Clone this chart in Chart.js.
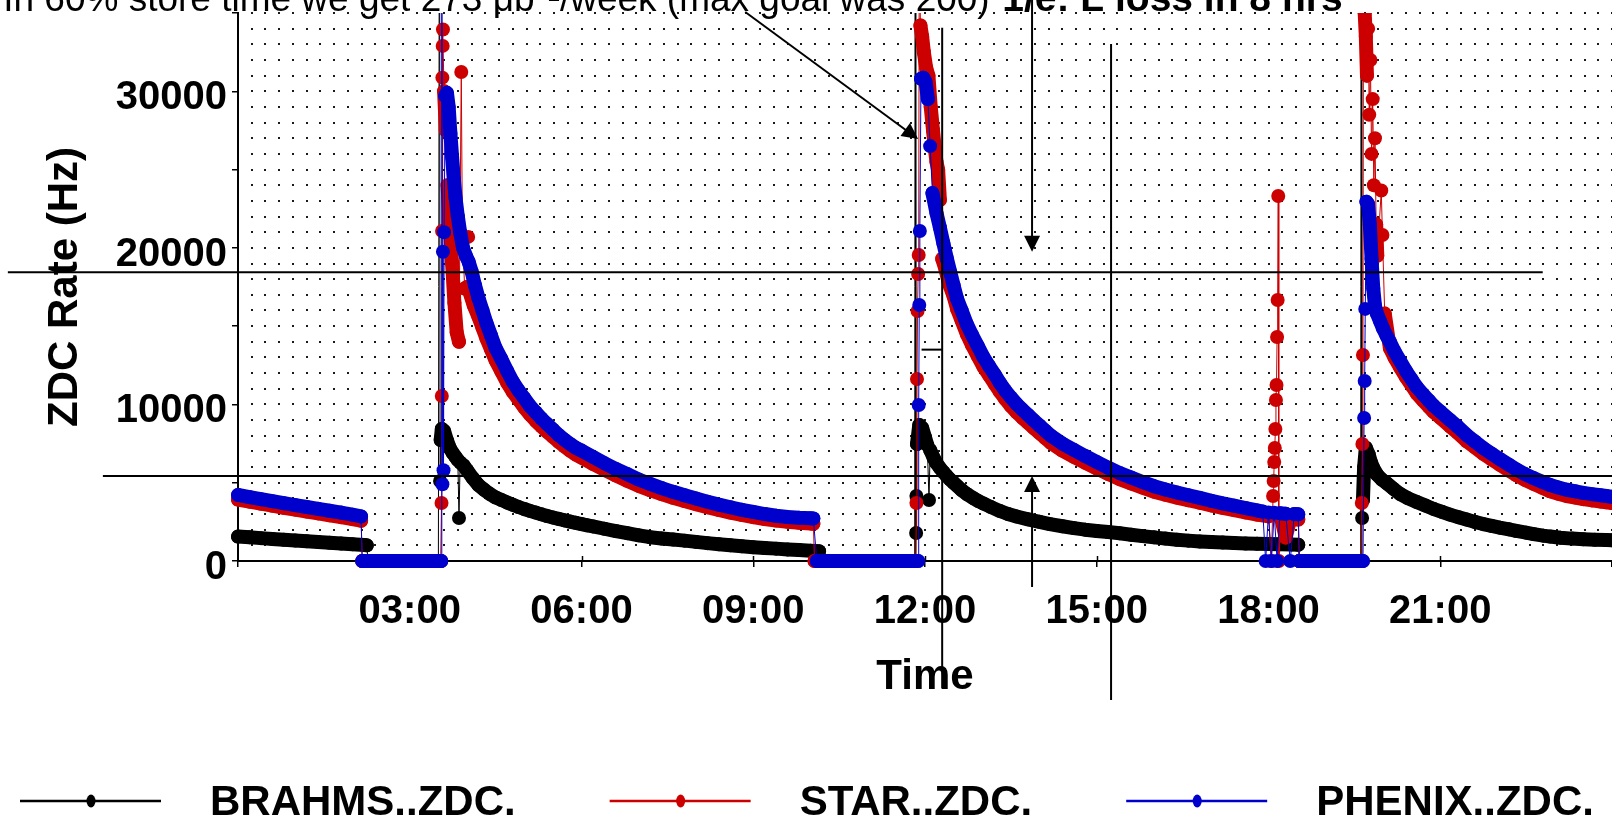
<!DOCTYPE html>
<html>
<head>
<meta charset="utf-8">
<script src="https://cdn.jsdelivr.net/npm/chart.js@4.4.1/dist/chart.umd.min.js"></script>
<style>
  html, body { margin: 0; padding: 0; background: #fff; }
  #wrap { position: relative; width: 1612px; height: 822px; }
</style>
</head>
<body>
<div id="wrap"><canvas id="zdcChart"></canvas></div>
<script>
// [hour of day, ZDC rate in Hz]
const brahmsZdc = [
  [0,1560],[0.2,1510],[0.4,1460],[0.6,1410],[0.8,1360],[1.0,1310],[1.2,1260],[1.4,1220],[1.6,1170],[1.8,1120],[2.0,1070],[2.2,1020],[2.25,1000],
  [2.27,0],[2.6,0],[3.0,0],[3.3,0],[3.5,0],
  [3.52,52000],[3.53,5110],[3.54,7730],[3.56,8430],[3.60,8300],[3.65,7700],[3.70,7200],[3.75,6900],[3.80,6650],[3.84,6450],[3.86,2750],[3.88,6300],[3.94,6100],[4.0,5800],[4.1,5300],[4.2,4850],[4.3,4550],[4.4,4280],[4.5,4060],[4.6,3900],[4.7,3740],[4.8,3590],[4.9,3450],[5.0,3320],[5.1,3200],[5.2,3090],[5.3,2980],[5.4,2870],[5.5,2780],[5.6,2690],[5.7,2600],[5.8,2520],[5.9,2440],[6.0,2360],[6.1,2280],[6.2,2210],[6.4,2060],[6.6,1910],[6.8,1780],[7.0,1640],[7.2,1520],[7.4,1440],[7.6,1370],[7.8,1300],[8.0,1220],[8.2,1140],[8.4,1070],[8.6,1000],[8.8,940],[9.0,880],[9.2,830],[9.4,790],[9.6,740],[9.8,700],[10.0,660],[10.15,630],
  [10.17,0],[10.5,0],[11.0,0],[11.5,0],[11.82,0],
  [11.83,55000],[11.835,0],[11.84,55000],[11.845,1790],[11.85,4150],[11.86,7470],[11.90,8690],[11.95,8500],[12.0,7900],[12.04,7400],[12.07,3900],[12.09,7090],[12.15,6600],[12.2,6250],[12.26,5950],[12.32,5680],[12.38,5430],[12.44,5200],[12.5,5000],[12.56,4800],[12.64,4530],[12.73,4280],[12.85,4000],[12.93,3830],[13.02,3670],[13.15,3450],[13.31,3190],[13.45,3000],[13.6,2840],[13.8,2660],[14.0,2500],[14.18,2360],[14.4,2220],[14.6,2100],[14.8,2000],[15.0,1920],[15.2,1850],[15.4,1770],[15.6,1680],[15.8,1590],[16.0,1510],[16.2,1430],[16.4,1360],[16.6,1300],[16.8,1250],[17.0,1210],[17.2,1180],[17.4,1150],[17.6,1120],[17.8,1100],[18.0,1080],[18.2,1065],[18.4,1050],[18.52,1040],
  [18.54,0],[18.9,0],[19.3,0],[19.61,0],
  [19.62,52000],[19.625,0],[19.63,52000],[19.635,2750],[19.65,3900],[19.67,6000],[19.70,7240],[19.75,6800],[19.79,6300],[19.83,5940],[19.9,5500],[19.98,5200],[20.06,4980],[20.18,4620],[20.30,4280],[20.44,4000],[20.59,3770],[20.74,3540],[20.88,3330],[21.03,3140],[21.17,2960],[21.32,2800],[21.46,2650],[21.6,2500],[21.75,2360],[21.9,2240],[22.04,2130],[22.2,2020],[22.33,1920],[22.5,1810],[22.63,1720],[22.8,1620],[22.92,1560],[23.1,1490],[23.3,1430],[23.5,1390],[23.7,1360],[23.9,1340],[24.0,1330]
];

const starZdc = [
  [0,3920],[0.2,3790],[0.4,3660],[0.6,3530],[0.8,3400],[1.0,3280],[1.2,3160],[1.4,3040],[1.6,2920],[1.8,2800],[2.0,2680],[2.15,2570],
  [2.17,0],[2.5,0],[2.9,0],[3.3,0],[3.54,0],
  [3.555,3700],[3.56,10540],[3.565,21080],[3.57,30870],[3.575,32900],[3.58,33950],[3.60,30000],[3.63,27500],[3.66,24000],[3.70,21500],[3.74,19000],[3.78,16500],[3.82,14600],[3.86,14000],[3.90,31230],[3.92,20700],[3.96,17400],[4.0,17500],[4.02,20700],[4.06,17000],[4.12,16300],[4.2,15600],[4.27,14900],[4.34,14200],[4.42,13500],[4.5,12800],[4.6,12100],[4.7,11400],[4.8,10800],[4.9,10300],[5.0,9800],[5.1,9350],[5.2,8950],[5.3,8600],[5.4,8250],[5.5,7930],[5.6,7620],[5.7,7330],[5.8,7050],[5.9,6800],[6.0,6600],[6.2,6200],[6.4,5820],[6.6,5460],[6.8,5120],[7.0,4800],[7.2,4520],[7.4,4270],[7.6,4040],[7.8,3830],[8.0,3630],[8.2,3440],[8.4,3260],[8.6,3090],[8.8,2940],[9.0,2800],[9.2,2680],[9.4,2580],[9.6,2500],[9.8,2440],[10.0,2400],[10.05,2380],
  [10.07,0],[10.5,0],[11.0,0],[11.5,0],[11.84,0],
  [11.85,3700],[11.86,11620],[11.87,15970],[11.88,18330],[11.89,19540],[11.90,40000],[11.92,34200],[11.95,33500],[11.98,32500],[12.02,31500],[12.06,31000],[12.10,29000],[12.14,27500],[12.17,26380],[12.20,25500],[12.23,24970],[12.26,23060],[12.30,19300],[12.36,18600],[12.42,17700],[12.50,16900],[12.56,16100],[12.64,15350],[12.73,14500],[12.82,13800],[12.92,13100],[13.02,12400],[13.12,11850],[13.22,11300],[13.31,10800],[13.4,10350],[13.5,9900],[13.6,9500],[13.7,9150],[13.8,8820],[13.9,8490],[14.0,8170],[14.1,7850],[14.2,7540],[14.4,7050],[14.6,6650],[14.8,6270],[15.0,5910],[15.2,5560],[15.4,5230],[15.6,4950],[15.8,4690],[16.0,4430],[16.2,4230],[16.4,4050],[16.6,3880],[16.8,3720],[17.0,3550],[17.2,3390],[17.4,3250],[17.6,3100],[17.8,2960],[18.0,2850],
  [18.05,0],[18.08,4150],[18.09,5110],[18.10,6320],[18.11,7220],[18.12,8430],[18.13,10280],[18.14,11240],[18.15,14310],[18.16,16670],[18.17,23310],[18.18,0],[18.22,2750],[18.3,1500],[18.38,2700],[18.45,2680],[18.52,2650],
  [18.54,0],[18.9,0],[19.3,0],[19.62,0],
  [19.63,3700],[19.64,7470],[19.65,13160],[19.66,42000],[19.68,35000],[19.70,33500],[19.72,31000],[19.74,34000],[19.76,28500],[19.78,32000],[19.80,26000],[19.82,29500],[19.84,24000],[19.86,27000],[19.88,21500],[19.90,19500],[19.97,23660],[19.99,20820],[20.03,15800],[20.12,13600],[20.2,13000],[20.3,12350],[20.4,11750],[20.5,11200],[20.59,10700],[20.7,10250],[20.8,9850],[20.88,9530],[21.0,9150],[21.17,8600],[21.3,8200],[21.46,7650],[21.6,7270],[21.75,6850],[21.9,6480],[22.04,6150],[22.2,5780],[22.33,5480],[22.48,5180],[22.63,4930],[22.78,4680],[22.92,4450],[23.06,4300],[23.21,4150],[23.36,4050],[23.5,3950],[23.65,3870],[23.8,3800],[23.9,3750],[24.0,3700]
];

const phenixZdc = [
  [0,4220],[0.2,4080],[0.4,3950],[0.6,3820],[0.8,3690],[1.0,3570],[1.2,3450],[1.4,3330],[1.6,3210],[1.8,3090],[2.0,2960],[2.15,2850],
  [2.17,0],[2.35,0],[2.55,0],[2.75,0],[2.95,0],[3.15,0],[3.35,0],[3.55,0],
  [3.56,48000],[3.57,4900],[3.58,19750],[3.59,5800],[3.60,21000],[3.62,29700],[3.65,29900],[3.68,29000],[3.71,27300],[3.74,25800],[3.77,24400],[3.80,23200],[3.84,22000],[3.88,21000],[3.93,20000],[3.98,19500],[4.03,19100],[4.08,18500],[4.14,17600],[4.20,16800],[4.27,16000],[4.34,15200],[4.42,14400],[4.50,13600],[4.60,12900],[4.70,12150],[4.80,11450],[4.90,10900],[5.0,10400],[5.1,9900],[5.2,9500],[5.3,9100],[5.4,8750],[5.5,8400],[5.6,8050],[5.7,7750],[5.8,7480],[5.9,7230],[6.0,7050],[6.2,6650],[6.4,6250],[6.6,5880],[6.8,5550],[7.0,5200],[7.2,4920],[7.4,4660],[7.6,4420],[7.8,4200],[8.0,3990],[8.2,3790],[8.4,3600],[8.6,3430],[8.8,3270],[9.0,3130],[9.2,3000],[9.4,2890],[9.6,2810],[9.8,2760],[10.0,2730],[10.05,2720],
  [10.11,0],[10.3,0],[10.5,0],[10.7,0],[10.9,0],[11.1,0],[11.3,0],[11.5,0],[11.7,0],[11.88,0],
  [11.89,9960],[11.90,16350],[11.91,21080],[11.93,30800],[11.97,30870],[12.01,30600],[12.05,29500],[12.09,26500],[12.13,23500],[12.20,22230],[12.26,21300],[12.32,20310],[12.38,19350],[12.44,18460],[12.50,17600],[12.56,16750],[12.64,16000],[12.73,15140],[12.82,14450],[12.92,13750],[13.02,13030],[13.12,12450],[13.22,11900],[13.31,11370],[13.4,10900],[13.5,10450],[13.6,10030],[13.7,9670],[13.8,9330],[13.9,8980],[14.0,8650],[14.1,8320],[14.2,8000],[14.4,7500],[14.6,7100],[14.8,6700],[15.0,6330],[15.2,5960],[15.4,5620],[15.6,5330],[15.8,5050],[16.0,4780],[16.2,4570],[16.4,4380],[16.6,4200],[16.8,4030],[17.0,3850],[17.2,3680],[17.4,3530],[17.6,3380],[17.8,3230],[17.9,3160],
  [17.95,0],[18.0,3100],[18.05,0],[18.1,3080],[18.15,0],[18.2,3050],[18.3,3020],[18.38,0],[18.45,3000],[18.52,2980],
  [18.54,0],[18.7,0],[18.9,0],[19.1,0],[19.3,0],[19.5,0],[19.65,0],
  [19.67,9130],[19.68,11500],[19.69,16100],[19.71,22950],[19.74,22800],[19.77,21500],[19.80,19300],[19.83,17400],[19.86,16300],[19.89,15840],[19.95,15300],[20.0,14850],[20.06,14400],[20.12,14000],[20.2,13400],[20.3,12770],[20.4,12150],[20.5,11600],[20.59,11110],[20.7,10650],[20.8,10250],[20.88,9930],[21.0,9550],[21.17,9010],[21.3,8600],[21.46,8050],[21.6,7650],[21.75,7220],[21.9,6850],[22.04,6510],[22.2,6150],[22.33,5850],[22.48,5550],[22.63,5300],[22.78,5060],[22.92,4850],[23.06,4700],[23.21,4550],[23.36,4450],[23.5,4350],[23.65,4270],[23.8,4200],[23.9,4150],[24.0,4100]
];

const seriesNames = ['BRAHMS..ZDC.', 'STAR..ZDC.', 'PHENIX..ZDC.'];
const timeTickLabels = ['', '03:00', '06:00', '09:00', '12:00', '15:00', '18:00', '21:00', ''];
const rateTickLabels = ['0', '', '10000', '', '20000', '', '30000', ''];

// hand drawn marks on the slide, in hours / Hz
const guideLines = [
  { t0: -4.02, v0: 18450, t1: 22.79, v1: 18450 },
  { t0: -2.36, v0: 5430, t1: 24.2, v1: 5430 },
  { t0: 12.3, v0: 34050, t1: 12.3, v1: -8150 },
  { t0: 15.25, v0: 33020, t1: 15.25, v1: -8880 },
  { t0: 11.94, v0: 13500, t1: 12.3, v1: 13500 }
];
const guideArrows = [
  { t0: 13.87, v0: 36000, t1: 13.87, v1: 19750 },
  { t0: 13.87, v0: -1660, t1: 13.87, v1: 5430 },
  { t0: 8.86, v0: 35060, t1: 11.88, v1: 26950 }
];
const noteLeft = 'In 60% store time we get 273 \u03bcb\u207b\u00b9/week (max goal was 200)';
const noteRight = '1/e: L loss in 8 hrs';

const FONT = '"Liberation Sans", Arial, Helvetica, sans-serif';
const toPoints = arr => arr.map(p => ({ x: p[0], y: p[1] }));

// thick band along the slow decay, thin line across jumps and spikes
function bandWidth(c) {
  const a = c.p0.parsed.y, b = c.p1.parsed.y;
  if ((a === 0) !== (b === 0)) return 1;
  if (c.p1.parsed.x - c.p0.parsed.x < 0.019) return 1;
  return Math.abs(a - b) > 2600 ? 1 : 14;
}

function makeSet(label, data, color, order) {
  return {
    label: label,
    data: toPoints(data),
    borderColor: color,
    backgroundColor: color,
    borderWidth: 1,
    borderJoinStyle: 'round',
    borderCapStyle: 'round',
    segment: { borderWidth: bandWidth },
    pointRadius: 7,
    pointBorderWidth: 0,
    pointBackgroundColor: color,
    pointHoverRadius: 7,
    tension: 0,
    order: order,
    clip: { left: 10, top: 0, right: 0, bottom: 10 }
  };
}

const dotGrid = {
  id: 'dotGrid',
  beforeDatasetsDraw(chart) {
    const { ctx, scales: { x, y }, chartArea } = chart;
    ctx.save();
    ctx.fillStyle = '#1a1a1a';
    for (let i = 1; i <= 100; i++) {
      const px = Math.round(x.getPixelForValue(i * 0.24));
      for (let v = 1000; v <= 35000; v += 1000) {
        const py = Math.round(y.getPixelForValue(v));
        ctx.fillRect(px - 1, py - 1, 2, 2);
      }
    }
    // tick marks reaching into the plot on the time axis
    ctx.strokeStyle = '#000';
    ctx.lineWidth = 1.5;
    for (let t = 3; t < 24; t += 3) {
      const px = Math.round(x.getPixelForValue(t)) + 0.5;
      ctx.beginPath();
      ctx.moveTo(px, chartArea.bottom);
      ctx.lineTo(px, chartArea.bottom - 5);
      ctx.stroke();
    }
    ctx.restore();
  }
};

function drawArrow(ctx, x0, y0, x1, y1) {
  const ang = Math.atan2(y1 - y0, x1 - x0);
  const len = 16, half = 8;
  ctx.beginPath();
  ctx.moveTo(x0, y0);
  ctx.lineTo(x1 - Math.cos(ang) * len * 0.8, y1 - Math.sin(ang) * len * 0.8);
  ctx.stroke();
  ctx.beginPath();
  ctx.moveTo(x1, y1);
  ctx.lineTo(x1 - Math.cos(ang) * len + Math.sin(ang) * half, y1 - Math.sin(ang) * len - Math.cos(ang) * half);
  ctx.lineTo(x1 - Math.cos(ang) * len - Math.sin(ang) * half, y1 - Math.sin(ang) * len + Math.cos(ang) * half);
  ctx.closePath();
  ctx.fill();
}

const overlay = {
  id: 'overlay',
  afterDraw(chart) {
    const { ctx, scales: { x, y } } = chart;
    const X = t => x.getPixelForValue(t);
    const Y = v => y.getPixelForValue(v);
    ctx.save();
    ctx.strokeStyle = '#000';
    ctx.fillStyle = '#000';
    ctx.lineWidth = 2;
    guideLines.forEach(l => {
      ctx.beginPath();
      ctx.moveTo(X(l.t0), Y(l.v0));
      ctx.lineTo(X(l.t1), Y(l.v1));
      ctx.stroke();
    });
    guideArrows.forEach(a => drawArrow(ctx, X(a.t0), Y(a.v0), X(a.t1), Y(a.v1)));

    ctx.textBaseline = 'alphabetic';
    ctx.font = '37px ' + FONT;
    ctx.textAlign = 'right';
    ctx.fillText(noteLeft, X(13.13), Y(35150));
    ctx.font = 'bold 39px ' + FONT;
    ctx.textAlign = 'left';
    ctx.fillText(noteRight, X(13.35), Y(35150));

    // legend row
    ctx.font = 'bold 42px ' + FONT;
    ctx.textBaseline = 'middle';
    const ly = chart.height - 21;
    let lx = 20;
    chart.data.datasets.forEach(ds => {
      ctx.strokeStyle = ds.borderColor;
      ctx.fillStyle = ds.borderColor;
      ctx.lineWidth = 2.5;
      ctx.beginPath();
      ctx.moveTo(lx, ly);
      ctx.lineTo(lx + 141, ly);
      ctx.stroke();
      ctx.beginPath();
      ctx.ellipse(lx + 71, ly, 4.5, 6.5, 0, 0, Math.PI * 2);
      ctx.fill();
      ctx.fillStyle = '#000';
      ctx.fillText(ds.label, lx + 190, ly + 2);
      lx += 190 + ctx.measureText(ds.label).width + 94;
    });
    ctx.restore();
  }
};

new Chart(document.getElementById('zdcChart'), {
  type: 'line',
  data: {
    datasets: [
      makeSet(seriesNames[0], brahmsZdc, '#000000', 3),
      makeSet(seriesNames[1], starZdc, '#cc0000', 2),
      makeSet(seriesNames[2], phenixZdc, '#0000cc', 1)
    ]
  },
  options: {
    responsive: true,
    maintainAspectRatio: false,
    animation: false,
    layout: { autoPadding: false, padding: { top: 13, right: 0, bottom: 0, left: 0 } },
    plugins: {
      legend: { display: false },
      tooltip: { enabled: false }
    },
    scales: {
      x: {
        type: 'linear',
        min: 0,
        max: 24,
        afterFit(scale) {
          scale.height = 261;
          scale.paddingLeft = 0;
          scale.paddingRight = 0;
        },
        border: { display: true, color: '#000', width: 2 },
        grid: { display: true, drawOnChartArea: false, drawTicks: true, tickLength: 6, color: '#000', lineWidth: 1.5 },
        ticks: {
          stepSize: 3,
          autoSkip: false,
          maxRotation: 0,
          padding: 21,
          color: '#000',
          font: { family: FONT, size: 40, weight: 'bold' },
          callback: v => timeTickLabels[Math.round(v / 3)] || ''
        },
        title: {
          display: true,
          text: 'Time',
          color: '#000',
          font: { family: FONT, size: 42, weight: 'bold' },
          padding: { top: 0, bottom: 119 }
        }
      },
      y: {
        min: 0,
        max: 35000,
        afterFit(scale) {
          scale.width = 238;
          scale.paddingTop = 0;
          scale.paddingBottom = 0;
        },
        border: { display: true, color: '#000', width: 2 },
        grid: { display: true, drawOnChartArea: false, drawTicks: true, tickLength: 6, color: '#000', lineWidth: 1.5 },
        ticks: {
          stepSize: 5000,
          autoSkip: false,
          padding: 5,
          labelOffset: 7,
          color: '#000',
          font: { family: FONT, size: 40, weight: 'bold' },
          callback: v => rateTickLabels[Math.round(v / 5000)] || ''
        },
        title: {
          display: true,
          text: 'ZDC Rate (Hz)',
          color: '#000',
          font: { family: FONT, size: 42, weight: 'bold' },
          padding: { top: 40, bottom: 0 }
        }
      }
    }
  },
  plugins: [dotGrid, overlay]
});
</script>
</body>
</html>
